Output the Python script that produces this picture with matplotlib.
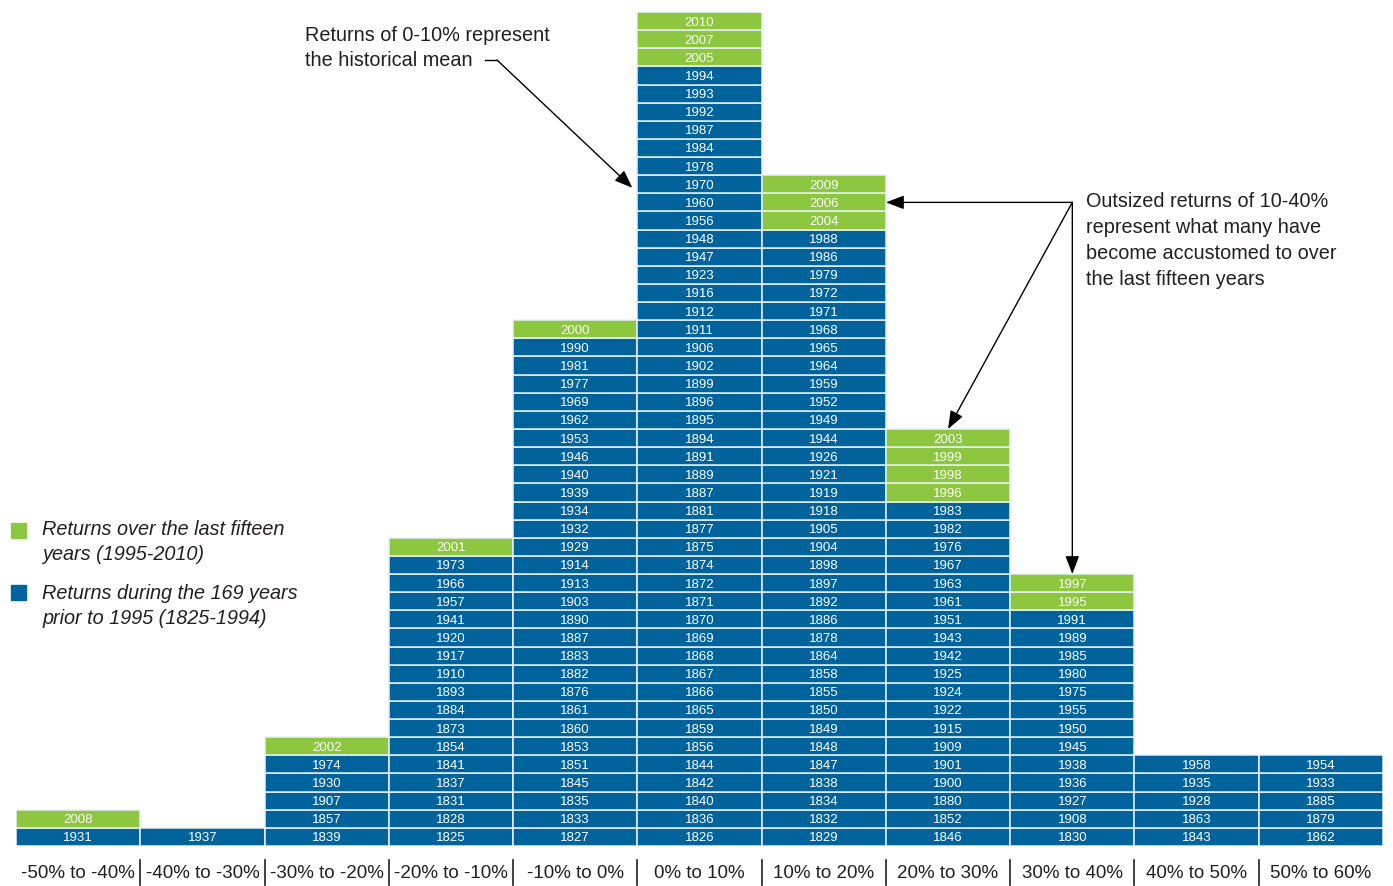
import matplotlib.pyplot as plt
from matplotlib.patches import Rectangle

# return buckets (x axis)
buckets = ["-50% to -40%", "-40% to -30%", "-30% to -20%", "-20% to -10%",
           "-10% to 0%", "0% to 10%", "10% to 20%", "20% to 30%",
           "30% to 40%", "40% to 50%", "50% to 60%"]

# years falling in each bucket, listed bottom to top
years_m50 = [1931, 2008]
years_m40 = [1937]
years_m30 = [1839, 1857, 1907, 1930, 1974, 2002]
years_m20 = [1825, 1828, 1831, 1837, 1841, 1854, 1873, 1884, 1893, 1910,
             1917, 1920, 1941, 1957, 1966, 1973, 2001]
years_m10 = [1827, 1833, 1835, 1845, 1851, 1853, 1860, 1861, 1876, 1882,
             1883, 1887, 1890, 1903, 1913, 1914, 1929, 1932, 1934, 1939,
             1940, 1946, 1953, 1962, 1969, 1977, 1981, 1990, 2000]
years_p0 = [1826, 1836, 1840, 1842, 1844, 1856, 1859, 1865, 1866, 1867,
            1868, 1869, 1870, 1871, 1872, 1874, 1875, 1877, 1881, 1887,
            1889, 1891, 1894, 1895, 1896, 1899, 1902, 1906, 1911, 1912,
            1916, 1923, 1947, 1948, 1956, 1960, 1970, 1978, 1984, 1987,
            1992, 1993, 1994, 2005, 2007, 2010]
years_p10 = [1829, 1832, 1834, 1838, 1847, 1848, 1849, 1850, 1855, 1858,
             1864, 1878, 1886, 1892, 1897, 1898, 1904, 1905, 1918, 1919,
             1921, 1926, 1944, 1949, 1952, 1959, 1964, 1965, 1968, 1971,
             1972, 1979, 1986, 1988, 2004, 2006, 2009]
years_p20 = [1846, 1852, 1880, 1900, 1901, 1909, 1915, 1922, 1924, 1925,
             1942, 1943, 1951, 1961, 1963, 1967, 1976, 1982, 1983, 1996,
             1998, 1999, 2003]
years_p30 = [1830, 1908, 1927, 1936, 1938, 1945, 1950, 1955, 1975, 1980,
             1985, 1989, 1991, 1995, 1997]
years_p40 = [1843, 1863, 1928, 1935, 1958]
years_p50 = [1862, 1879, 1885, 1933, 1954]

columns = [years_m50, years_m40, years_m30, years_m20, years_m10, years_p0,
           years_p10, years_p20, years_p30, years_p40, years_p50]

RECENT_START = 1995
BLUE = "#00639C"
GREEN = "#8DC63F"
INK = "#231f20"
FONT = "Liberation Sans"

W, H = 1393, 886
fig = plt.figure(figsize=(W / 100, H / 100), dpi=100)
# axes spans the stacked blocks: 11 columns by 46 rows
ax = fig.add_axes([16 / W, (H - 846) / H, (1383 - 16) / W, (846 - 12) / H])
ax.set_xlim(0, len(buckets))
ax.set_ylim(0, 46)
ax.axis("off")

for i, col in enumerate(columns):
    for j, yr in enumerate(col):
        color = GREEN if yr >= RECENT_START else BLUE
        ax.add_patch(Rectangle((i, j), 1, 1, facecolor=color,
                               edgecolor="#e8f0f6", linewidth=1.1))
        ax.text(i + 0.5, j + 0.42, str(yr), ha="center", va="center",
                color="white", fontsize=9.5, family=FONT)

# bucket labels with separators
for i, lab in enumerate(buckets):
    ax.text(i + 0.5, -1.5, lab, ha="center", va="center", fontsize=13.5,
            family=FONT, color=INK, clip_on=False)
    if i > 0:
        ax.plot([i, i], [-0.75, -2.15], color=INK, lw=1.2, clip_on=False)


def fpos(x, y):
    return x / W, 1 - y / H


txt = dict(fontsize=14.3, family=FONT, color=INK, linespacing=1.45,
           ha="left", va="center")

# legend
fig.patches.append(Rectangle(fpos(11, 538), 15 / W, 15 / H, color=GREEN,
                             transform=fig.transFigure))
fig.patches.append(Rectangle(fpos(11, 600), 15 / W, 15 / H, color=BLUE,
                             transform=fig.transFigure))
fig.text(*fpos(42, 542), "Returns over the last fifteen\nyears (1995-2010)",
         style="italic", **txt)
fig.text(*fpos(42, 606), "Returns during the 169 years\nprior to 1995 (1825-1994)",
         style="italic", **txt)

# annotation: historical mean
fig.text(*fpos(305, 48), "Returns of 0-10% represent\nthe historical mean", **txt)
x0, y0 = (485 - 16) / 124.27, (846 - 60) / 18.13
x1 = (497 - 16) / 124.27
ax.plot([x0, x1], [y0, y0], color="black", lw=1, clip_on=False)
arrow = dict(arrowstyle="-|>,head_length=1.1,head_width=0.42",
             color="black", lw=1, shrinkA=0, shrinkB=0)
ax.annotate("", xy=(4.96, 36.3), xytext=(x1, y0), arrowprops=arrow,
            annotation_clip=False)

# annotation: outsized returns
fig.text(*fpos(1086, 240.5),
         "Outsized returns of 10-40%\nrepresent what many have\n"
         "become accustomed to over\nthe last fifteen years", **txt)
origin = (8.5, 35.5)
ax.annotate("", xy=(7.0, 35.5), xytext=origin, arrowprops=arrow)
ax.annotate("", xy=(7.5, len(years_p20)), xytext=origin, arrowprops=arrow)
ax.annotate("", xy=(8.5, len(years_p30)), xytext=origin, arrowprops=arrow)

fig.savefig("out.png", dpi=100, facecolor="white")
